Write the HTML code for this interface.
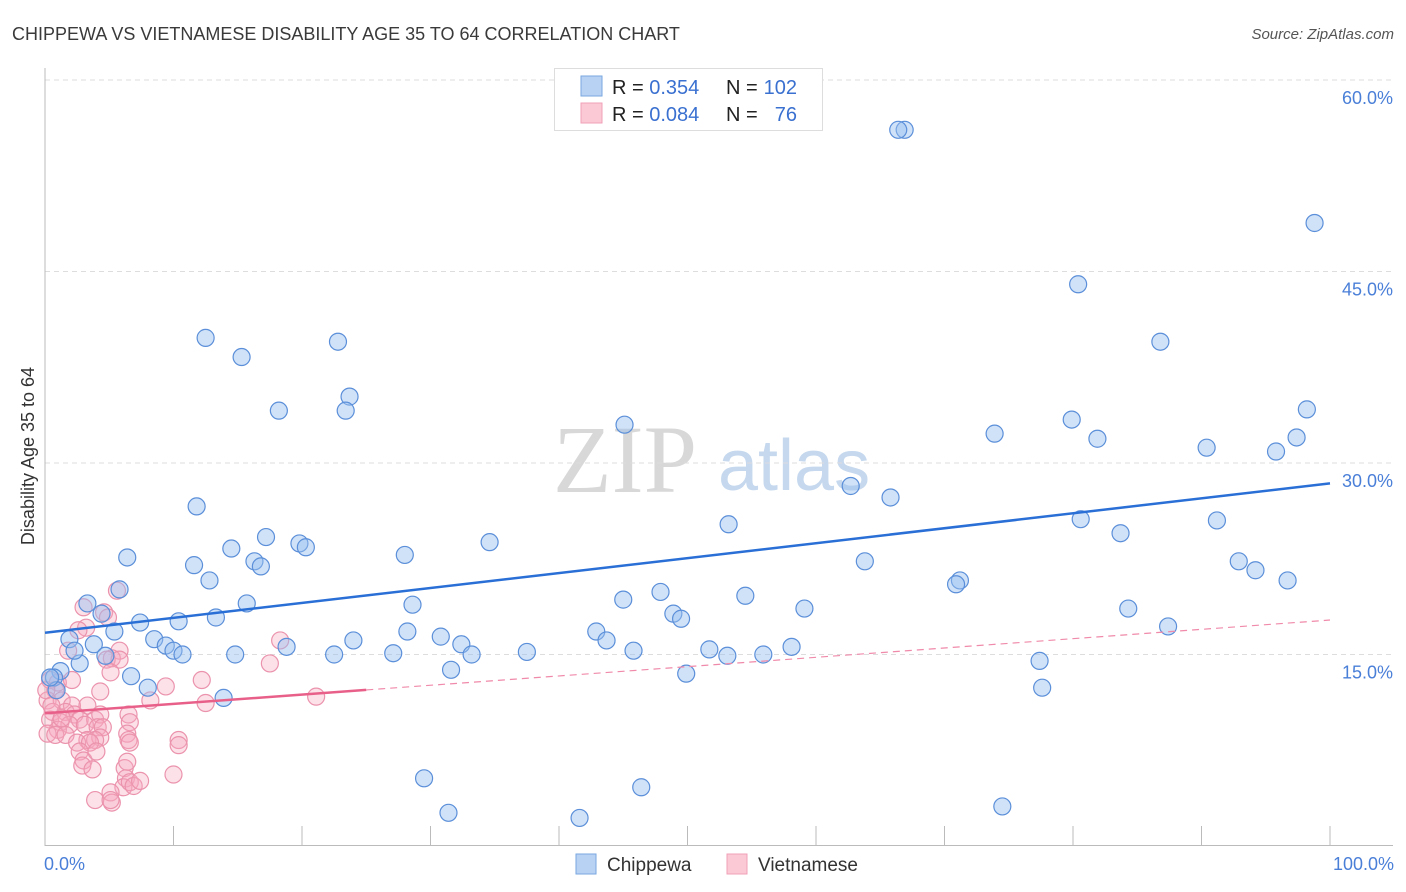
<!DOCTYPE html>
<html><head><meta charset="utf-8">
<style>
body{margin:0;background:#fff;font-family:"Liberation Sans",sans-serif;}
svg{display:block}
</style></head>
<body>
<svg id="chart" width="1406" height="892" xmlns="http://www.w3.org/2000/svg">
<text x="12" y="40" font-size="18" fill="#3a3a3a">CHIPPEWA VS VIETNAMESE DISABILITY AGE 35 TO 64 CORRELATION CHART</text>
<text x="1394" y="39" font-size="15" fill="#555" font-style="italic" text-anchor="end">Source: ZipAtlas.com</text>
<g>
<text x="553" y="492" font-size="96" fill="#d8d8d8" font-family="Liberation Serif,serif">ZIP</text>
<text x="718" y="490" font-size="72" fill="#c5d8ee">atlas</text>
</g>
<g id="grid"></g>
<g id="axes"></g>
<g id="points"></g>
<g id="lines"></g>
<text x="34" y="456" font-size="18" fill="#333" text-anchor="middle" transform="rotate(-90 34 456)">Disability Age 35 to 64</text>
<g>
<rect x="554.5" y="68.5" width="268" height="62" fill="#fff" stroke="#ddd"/>
<rect x="581" y="76" width="21" height="20" fill="#b8d2f4" stroke="#7aa7e0"/>
<rect x="581" y="103" width="21" height="20" fill="#fbc8d6" stroke="#f0a0b8"/>
<text x="612" y="94" font-size="20" fill="#222">R = <tspan fill="#3a70d0">0.354</tspan></text>
<text x="726" y="94" font-size="20" fill="#222">N =</text>
<text x="797" y="94" font-size="20" fill="#3a70d0" text-anchor="end">102</text>
<text x="612" y="121" font-size="20" fill="#222">R = <tspan fill="#3a70d0">0.084</tspan></text>
<text x="726" y="121" font-size="20" fill="#222">N =</text>
<text x="797" y="121" font-size="20" fill="#3a70d0" text-anchor="end">76</text>
</g>
<g>
<rect x="576" y="854" width="20" height="20" fill="#b8d2f4" stroke="#7aa7e0"/>
<text x="607" y="871" font-size="19" fill="#333">Chippewa</text>
<rect x="727" y="854" width="20" height="20" fill="#fbc8d6" stroke="#f0a0b8"/>
<text x="758" y="871" font-size="19" fill="#333">Vietnamese</text>
</g>
</svg>
<script>
const yTicks=[15,30,45,60];
const yTickLabels=["15.0%","30.0%","45.0%","60.0%"];
const xTickVals=[0,10,20,30,40,50,60,70,80,90,100];
const xEndLabels=["0.0%","100.0%"];
const chippewaX=[66.9,66.4,98.8,80.4,12.5,86.8,22.8,15.3,23.7,18.2,23.4,45.1,73.9,79.9,81.9,90.4,95.8,97.4,98.2,62.7,65.8,11.8,53.2,80.6,91.2,17.2,83.7,19.8,20.3,34.6,14.5,6.4,28.0,16.3,16.8,63.8,11.6,92.9,94.2,12.8,71.2,70.9,96.7,5.8,47.9,54.5,45.0,15.7,28.6,59.1,84.3,3.3,4.4,48.9,49.5,13.3,10.4,7.4,87.4,5.4,28.2,42.9,30.8,1.9,8.5,24.0,43.7,32.4,9.4,10.0,3.8,10.7,18.8,14.8,22.5,27.1,33.2,37.5,45.8,51.7,53.1,55.9,58.1,4.7,2.7,77.4,2.3,31.6,49.9,1.2,6.7,0.7,8.0,13.9,77.6,29.5,46.4,31.4,41.6,74.5,0.9,0.4];
const chippewaY=[56.1,56.1,48.8,44.0,39.8,39.5,39.5,38.3,35.2,34.1,34.1,33.0,32.3,33.4,31.9,31.2,30.9,32.0,34.2,28.2,27.3,26.6,25.2,25.6,25.5,24.2,24.5,23.7,23.4,23.8,23.3,22.6,22.8,22.3,21.9,22.3,22.0,22.3,21.6,20.8,20.8,20.5,20.8,20.1,19.9,19.6,19.3,19.0,18.9,18.6,18.6,19.0,18.2,18.2,17.8,17.9,17.6,17.5,17.2,16.8,16.8,16.8,16.4,16.2,16.2,16.1,16.1,15.8,15.7,15.3,15.8,15.0,15.6,15.0,15.0,15.1,15.0,15.2,15.3,15.4,14.9,15.0,15.6,14.9,14.3,14.5,15.3,13.8,13.5,13.7,13.3,13.2,12.4,11.6,12.4,5.3,4.6,2.6,2.2,3.1,12.2,13.2];
const vietX=[5.6,3.0,4.6,4.9,3.2,2.6,5.8,1.8,5.2,4.8,5.8,5.1,18.3,17.5,0.4,1.0,9.4,8.2,21.1,12.5,12.2,0.8,0.2,1.3,2.1,3.3,0.6,1.6,2.3,2.7,3.9,4.3,6.5,6.6,0.4,1.2,1.9,3.1,4.1,4.5,1.0,0.2,0.8,1.6,3.3,4.3,6.4,3.9,6.5,10.4,2.5,3.5,10.4,6.6,2.7,3.0,4.0,6.2,6.4,2.9,3.7,10.0,6.3,6.1,6.6,5.1,6.9,3.9,5.2,7.4,0.1,0.5,1.3,5.1,2.1,4.3];
const vietY=[20.0,18.7,18.3,17.9,17.1,16.9,15.3,15.3,14.7,14.6,14.6,13.6,16.1,14.3,13.0,12.8,12.5,11.4,11.7,11.2,13.0,12.2,11.4,11.4,11.0,11.0,10.5,10.5,10.3,9.9,9.9,10.3,10.3,9.7,9.9,9.7,9.5,9.5,9.3,9.3,9.1,8.8,8.7,8.7,8.3,8.5,8.8,8.3,8.3,8.3,8.1,8.1,7.9,8.1,7.4,6.7,7.4,6.1,6.6,6.3,6.0,5.6,5.3,4.6,5.0,4.2,4.7,3.6,3.4,5.1,12.2,11.0,10.0,3.6,13.0,12.1];
const chippewaFit=[16.7,28.4];
const vietFit=[10.4,17.7];
const vietSolidEnd=25;

const NS="http://www.w3.org/2000/svg";
const X0=45,X1=1330,YB=846,Y60=80;
const xs=v=>X0+(X1-X0)*v/100;
const ys=v=>YB-(YB-Y60)*v/60;
function mk(tag,attrs,parent){const e=document.createElementNS(NS,tag);for(const k in attrs)e.setAttribute(k,attrs[k]);parent.appendChild(e);return e;}
const grid=document.getElementById('grid'),axes=document.getElementById('axes'),pts=document.getElementById('points'),lines=document.getElementById('lines');
yTicks.forEach((t,i)=>{
 const l=mk('line',{x1:X0,x2:1393,y1:ys(t),y2:ys(t),stroke:'#ddd','stroke-dasharray':'5,4'},grid);
 
 
 const tx=mk('text',{x:1393,y:ys(t)+24,'font-size':18,fill:'#4a7fd8','text-anchor':'end'},axes);
 tx.textContent=yTickLabels[i];
 
 
});
let a=mk('line',{x1:X0,x2:X0,y1:68,y2:YB,stroke:'#bbb'},axes);


a=mk('line',{x1:X0,x2:1393,y1:YB-0.5,y2:YB-0.5,stroke:'#bbb'},axes);


xTickVals.forEach(v=>{
 const t=mk('line',{x1:xs(v),x2:xs(v),y1:826,y2:YB,stroke:'#bbb'},axes);
 
 
});
[[0,'start',44],[100,'end',1394]].forEach((d,i)=>{
 const t=mk('text',{x:d[2],y:870,'font-size':18,fill:'#4a7fd8','text-anchor':d[1]},axes);
 t.textContent=xEndLabels[i];
 
 
});
vietX.forEach((x,i)=>{
 const c=mk('circle',{cx:xs(x),cy:ys(vietY[i]),r:8.5,fill:'rgba(246,170,192,0.35)',stroke:'#eb93ad','stroke-width':1.2},pts);
 
 
});
chippewaX.forEach((x,i)=>{
 const c=mk('circle',{cx:xs(x),cy:ys(chippewaY[i]),r:8.5,fill:'rgba(150,190,240,0.45)',stroke:'#5b8fd9','stroke-width':1.2},pts);
 
 
});
const vf=x=>vietFit[0]+(vietFit[1]-vietFit[0])*x/100;
let l=mk('line',{x1:xs(vietSolidEnd),y1:ys(vf(vietSolidEnd)),x2:xs(100),y2:ys(vf(100)),stroke:'#f08aaa','stroke-width':1.2,'stroke-dasharray':'7,5'},lines);


l=mk('line',{x1:xs(0),y1:ys(vf(0)),x2:xs(vietSolidEnd),y2:ys(vf(vietSolidEnd)),stroke:'#e8608a','stroke-width':2.5},lines);


l=mk('line',{x1:xs(0),y1:ys(chippewaFit[0]),x2:xs(100),y2:ys(chippewaFit[1]),stroke:'#2a6fd6','stroke-width':2.5},lines);


</script>
</body></html>
